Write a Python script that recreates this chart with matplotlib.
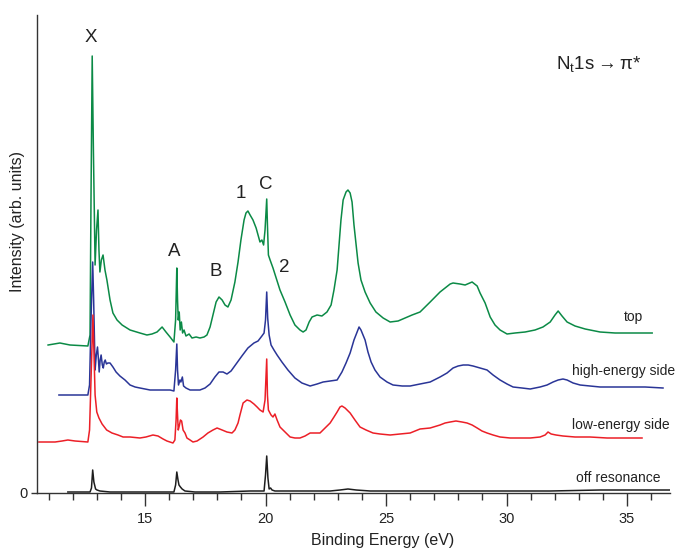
import matplotlib
matplotlib.use("Agg")
import matplotlib.pyplot as plt
from matplotlib.ticker import MultipleLocator, FixedLocator

plt.rcParams['font.family'] = ['Liberation Sans', 'DejaVu Sans']
plt.rcParams['mathtext.fontset'] = 'custom'
plt.rcParams['mathtext.rm'] = 'Liberation Sans'

# ---------------- data (binding energy in eV, intensity in arb. units) -------------
top_E = [10.98, 11.47, 11.89, 12.63, 12.72, 12.76, 12.81, 12.86, 12.93, 12.99, 13.05, 13.09, 13.13,
         13.19, 13.26, 13.34, 13.42, 13.55, 13.67, 13.84, 14.05, 14.38, 14.79, 15.08, 15.29, 15.50,
         15.71, 15.87, 16.04, 16.20, 16.27, 16.32, 16.35, 16.38, 16.42, 16.46, 16.51, 16.56, 16.62,
         16.70, 16.83, 16.95, 17.12, 17.28, 17.45, 17.57, 17.70, 17.82, 17.95, 18.07, 18.20, 18.32,
         18.44, 18.57, 18.73, 18.86, 18.98, 19.11, 19.19, 19.27, 19.36, 19.48, 19.61, 19.69, 19.77,
         19.85, 19.92, 19.98, 20.05, 20.08, 20.12, 20.19, 20.31, 20.44, 20.60, 20.81, 21.02, 21.22,
         21.43, 21.56, 21.68, 21.81, 21.93, 22.14, 22.34, 22.55, 22.72, 22.84, 22.97, 23.05, 23.13,
         23.22, 23.34, 23.42, 23.51, 23.59, 23.67, 23.76, 23.84, 23.96, 24.13, 24.34, 24.58, 24.88,
         25.17, 25.50, 25.79, 26.08, 26.41, 26.83, 27.24, 27.66, 27.78, 28.07, 28.28, 28.57, 28.78,
         28.90, 29.11, 29.32, 29.52, 29.73, 30.02, 30.35, 30.77, 31.18, 31.51, 31.81, 32.01, 32.14,
         32.30, 32.51, 32.84, 33.26, 33.88, 34.50, 35.12, 35.62, 36.04]
top_I = [148, 150, 148, 147, 158, 293, 437, 343, 228, 263, 283, 243, 221,
         233, 238, 223, 213, 193, 180, 173, 168, 163, 160, 158, 159, 161,
         166, 161, 156, 151, 173, 225, 193, 173, 181, 163, 171, 160, 163,
         157, 159, 155, 156, 155, 156, 158, 166, 178, 191, 196, 193, 188,
         186, 193, 211, 231, 253, 273, 280, 282, 278, 273, 265, 258, 251,
         253, 248, 263, 294, 268, 238, 233, 225, 215, 203, 191, 178, 168,
         163, 161, 163, 171, 176, 178, 177, 181, 188, 203, 223, 248, 273,
         293, 301, 303, 300, 291, 268, 248, 230, 213, 201, 190, 181, 175,
         171, 172, 175, 178, 181, 191, 201, 209, 210, 209, 208, 211, 207,
         200, 190, 176, 168, 163, 159, 160, 161, 163, 166, 171, 178, 182,
         177, 171, 167, 164, 161, 160, 160, 160, 160]

high_E = [11.43, 11.89, 12.63, 12.70, 12.76, 12.83, 12.87, 12.93, 12.98, 13.03, 13.07, 13.10, 13.14,
          13.18, 13.23, 13.27, 13.31, 13.35, 13.40, 13.46, 13.55, 13.67, 13.80, 13.96, 14.17, 14.38,
          14.59, 14.79, 15.21, 15.62, 16.04, 16.20, 16.27, 16.32, 16.35, 16.39, 16.45, 16.49, 16.55,
          16.60, 16.70, 16.87, 17.07, 17.28, 17.49, 17.70, 17.90, 18.07, 18.24, 18.40, 18.57, 18.78,
          19.02, 19.27, 19.52, 19.69, 19.85, 19.94, 20.00, 20.05, 20.09, 20.15, 20.23, 20.35, 20.48,
          20.68, 20.93, 21.22, 21.51, 21.85, 22.14, 22.39, 22.68, 22.97, 23.17, 23.34, 23.51, 23.67,
          23.80, 23.88, 23.96, 24.13, 24.25, 24.38, 24.54, 24.75, 25.04, 25.29, 25.67, 26.00, 26.41,
          26.83, 27.24, 27.53, 27.78, 27.99, 28.20, 28.41, 28.61, 28.90, 29.19, 29.44, 29.73, 30.02,
          30.27, 30.64, 30.98, 31.39, 31.68, 31.93, 32.14, 32.34, 32.51, 32.76, 33.05, 33.46, 33.88,
          34.50, 35.12, 35.75, 36.49]
high_I = [98, 98, 98, 108, 173, 231, 193, 123, 138, 146, 133, 121, 133,
          138, 128, 125, 131, 133, 129, 130, 130, 126, 121, 117, 113, 108,
          106, 105, 103, 103, 103, 102, 123, 149, 123, 108, 113, 111, 116,
          107, 105, 103, 103, 103, 105, 109, 116, 121, 121, 119, 122, 129,
          137, 145, 150, 152, 157, 160, 173, 201, 175, 158, 148, 143, 138,
          131, 123, 115, 110, 107, 109, 111, 112, 113, 121, 130, 140, 153,
          161, 166, 163, 153, 141, 131, 123, 116, 111, 108, 107, 107, 109,
          111, 116, 120, 125, 127, 128, 128, 127, 125, 123, 118, 113, 109,
          106, 105, 104, 106, 108, 111, 113, 114, 113, 110, 108, 107, 106,
          106, 106, 106, 105]

low_E = [10.60, 11.27, 11.56, 11.80, 12.10, 12.63, 12.70, 12.76, 12.84, 12.88, 12.93, 13.00, 13.09,
         13.22, 13.41, 13.63, 13.88, 14.09, 14.38, 14.79, 15.04, 15.33, 15.54, 15.75, 15.91, 16.16,
         16.24, 16.29, 16.32, 16.35, 16.38, 16.43, 16.47, 16.52, 16.58, 16.66, 16.74, 16.87, 16.99,
         17.16, 17.41, 17.61, 17.82, 17.99, 18.20, 18.40, 18.61, 18.73, 18.86, 18.94, 19.07, 19.23,
         19.36, 19.52, 19.65, 19.77, 19.90, 19.98, 20.05, 20.08, 20.12, 20.23, 20.31, 20.39, 20.48,
         20.60, 20.81, 21.02, 21.22, 21.43, 21.64, 21.85, 22.05, 22.26, 22.47, 22.68, 22.84, 22.97,
         23.09, 23.17, 23.30, 23.51, 23.71, 23.92, 24.17, 24.46, 24.75, 25.17, 25.58, 26.00, 26.41,
         26.83, 27.24, 27.45, 27.66, 27.90, 28.15, 28.36, 28.57, 28.78, 28.98, 29.19, 29.44, 29.73,
         30.15, 30.56, 30.98, 31.39, 31.60, 31.72, 31.85, 32.05, 32.34, 32.84, 33.46, 34.17, 34.92,
         35.62]
low_I = [51, 51, 52, 53, 52, 51, 63, 113, 178, 143, 98, 81, 75,
         69, 63, 60, 58, 56, 56, 55, 56, 58, 57, 54, 52, 50,
         53, 73, 95, 78, 63, 68, 73, 72, 63, 60, 55, 53, 51,
         52, 56, 60, 63, 65, 63, 61, 60, 63, 70, 78, 90, 93,
         92, 89, 86, 83, 81, 93, 134, 98, 83, 78, 76, 79, 73,
         66, 61, 56, 55, 55, 57, 60, 60, 60, 65, 70, 76, 81,
         86, 87, 85, 80, 73, 66, 63, 60, 59, 58, 59, 60, 64,
         65, 68, 70, 71, 72, 71, 70, 68, 65, 62, 60, 58, 56,
         55, 55, 55, 56, 58, 61, 59, 58, 57, 56, 56, 55, 55,
         55]

off_E = [11.80, 12.30, 12.72, 12.78, 12.83, 12.88, 12.95, 13.01, 13.13, 13.55, 14.38, 15.21, 16.04,
         16.20, 16.27, 16.32, 16.37, 16.41, 16.47, 16.54, 16.66, 17.07, 18.11, 19.36, 19.94, 20.00,
         20.05, 20.10, 20.15, 20.21, 20.27, 20.39, 21.43, 22.68, 23.09, 23.42, 23.76, 24.34, 25.58,
         27.66, 29.73, 31.81, 33.88, 35.54, 36.78]
off_I = [1, 1, 1, 5, 23, 11, 4, 3, 2, 1, 1, 1, 1,
         1, 8, 21, 13, 8, 6, 4, 2, 1, 1, 2, 2, 18,
         37, 15, 4, 5, 3, 2, 2, 2, 3, 4, 3, 2, 2,
         2, 2, 2, 3, 3, 3]

series_names = ['top', 'high-energy side', 'low-energy side', 'off resonance']
series_colors = ['#0b8a46', '#2a3597', '#ec1f27', '#1e1e1e']
peak_labels = ['X', 'A', 'B', '1', 'C', '2']
x_ticks = [15, 20, 25, 30, 35]

# ---------------- figure ----------------
fig = plt.figure(figsize=(6.76, 5.51), dpi=100)
ax = fig.add_axes([37 / 676, 58 / 551, 633 / 676, 478 / 551])

curves = [(top_E, top_I), (high_E, high_I), (low_E, low_I), (off_E, off_I)]
for (E, I), c in zip(curves, series_colors):
    ax.plot(E, I, color=c, lw=1.1, solid_joinstyle='round')

ax.set_xlim(10.52, 36.78)
ax.set_ylim(0, 478)

for s in ['top', 'right']:
    ax.spines[s].set_visible(False)
for s in ['left', 'bottom']:
    ax.spines[s].set_linewidth(1.0)
    ax.spines[s].set_color('#333333')

ax.xaxis.set_major_locator(FixedLocator(x_ticks))
ax.xaxis.set_minor_locator(MultipleLocator(1))
ax.set_yticks([0])
ax.tick_params(axis='x', which='major', direction='out', length=9, width=1.0,
               color='#333333', labelsize=10.5, pad=5, labelcolor='#222222')
ax.tick_params(axis='x', which='minor', direction='out', length=5, width=1.0, color='#333333')
ax.tick_params(axis='y', which='major', direction='out', length=4, width=1.0,
               color='#333333', labelsize=10.5, pad=3, labelcolor='#222222')

fig.text(383 / 676, 1 - 540 / 551, 'Binding Energy (eV)', ha='center', va='center',
         fontsize=11.5, color='#222222')
fig.text(18 / 676, 1 - 222 / 551, 'Intensity (arb. units)', ha='center', va='center',
         rotation=90, fontsize=11.5, color='#222222')

# peak labels
peak_pos = [(12.76, 455), (16.20, 241), (17.95, 222), (18.98, 300), (20.02, 309), (20.77, 226)]
for lab, (px, py) in zip(peak_labels, peak_pos):
    ax.text(px, py, lab, ha='center', va='center', fontsize=13.5, color='#222222')

# series labels
name_pos = [(35.66, 176), (36.99, 122), (36.78, 68), (36.37, 15)]
for name, (px, py) in zip(series_names, name_pos):
    ax.text(px, py, name, ha='right', va='center', fontsize=10, color='#222222', clip_on=False)

ax.text(33.84, 428, r'N$_{\mathregular{t}}$1s$\rightarrow$π*', ha='center', va='center',
        fontsize=13.5, color='#222222')

fig.savefig('out.png', dpi=100)
